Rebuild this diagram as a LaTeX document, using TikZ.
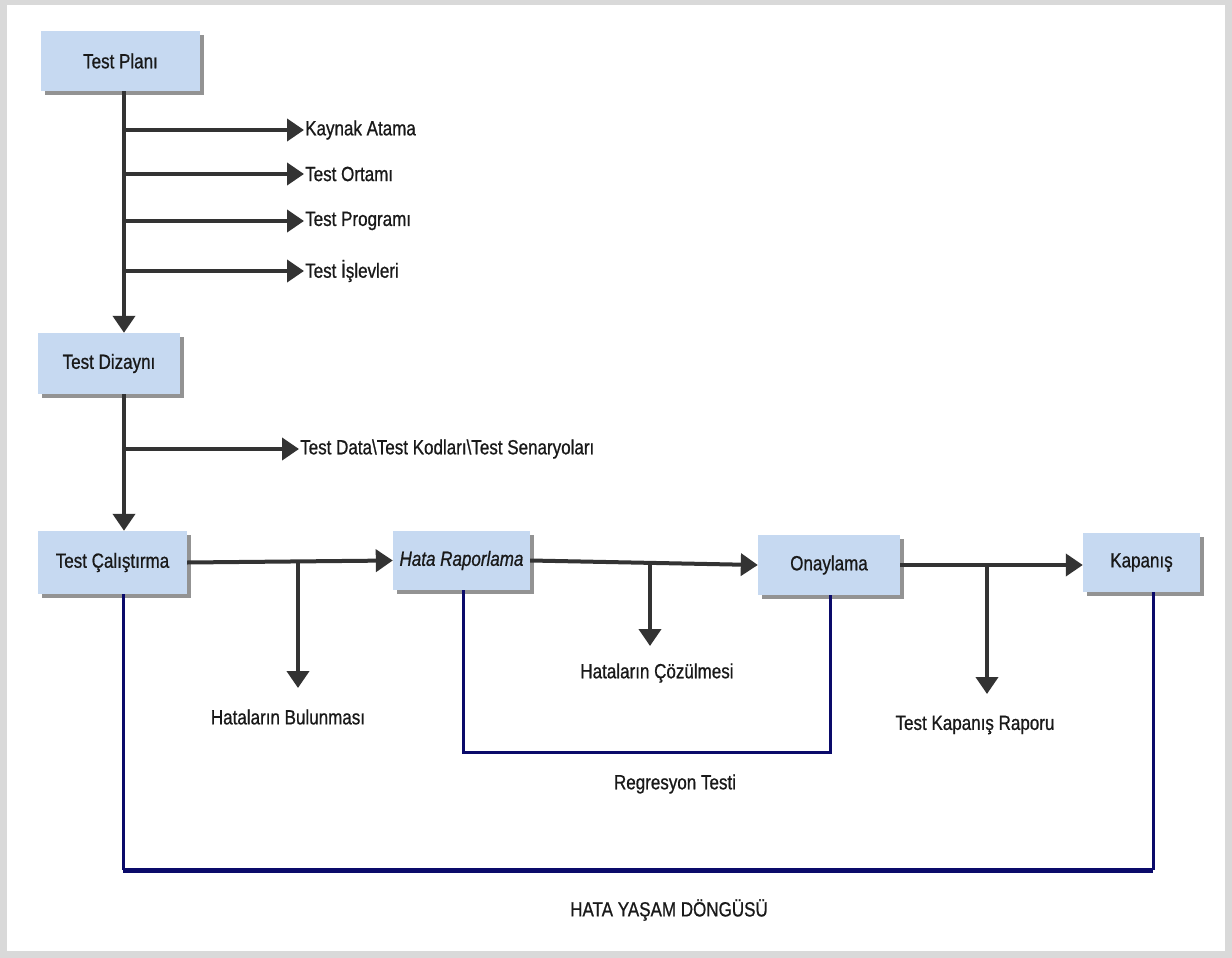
\documentclass[tikz,border=0pt]{standalone}
\usepackage{fontspec}
\setmainfont{Liberation Sans}[FakeStretch=0.83,FakeBold=0.8]
\usetikzlibrary{arrows.meta,shadows}
\definecolor{boxblue}{HTML}{C6D9F1}
\definecolor{linegray}{HTML}{333333}
\definecolor{navyline}{HTML}{0A0A6A}
\begin{document}
\begin{tikzpicture}[x=1pt,y=-1pt,
  stepbox/.style={draw=none,fill=boxblue,inner sep=0pt,
    drop shadow={shadow xshift=4pt,shadow yshift=-4pt,fill=black!60,opacity=0.7},
    font=\fontsize{20.5}{23}\selectfont,text=black!90},
  lbl/.style={inner sep=1pt,font=\fontsize{20.5}{23}\selectfont,text=black!90},
  arr/.style={draw=linegray,line width=4pt,-{Triangle[length=17pt,width=22pt]}},
  loop/.style={draw=navyline,line width=3pt}]
% frame
\fill[black!15] (0,0) rectangle (1232,958);
\fill[white] (7,5) rectangle (1225,951);
\useasboundingbox (0,0) rectangle (1232,958);

% boxes
\node[stepbox,minimum width=159pt,minimum height=60pt] (plan) at (120.5,61) {Test Planı};
\node[stepbox,minimum width=142pt,minimum height=61pt] (diz) at (109,363.5) {Test Dizaynı};
\node[stepbox,minimum width=149pt,minimum height=63pt] (cal) at (112.5,562.5) {Test Çalıştırma};
\node[stepbox,minimum width=137pt,minimum height=59pt] (hata) at (461.5,560.5) {\itshape Hata Raporlama};
\node[stepbox,minimum width=142pt,minimum height=60pt] (onay) at (829,565) {Onaylama};
\node[stepbox,minimum width=117pt,minimum height=59pt] (kap) at (1141.5,562.5) {Kapanış};

% labels
\node[lbl,anchor=west] (t1) at (304,130) {Kaynak Atama};
\node[lbl,anchor=west] (t2) at (304,174) {Test Ortamı};
\node[lbl,anchor=west] (t3) at (304,221) {Test Programı};
\node[lbl,anchor=west] (t4) at (304,271) {Test İşlevleri};
\node[lbl,anchor=west] (t5) at (299,449) {Test Data\textbackslash Test Kodları\textbackslash Test Senaryoları};
\node[lbl] (t6) at (288,717) {Hataların Bulunması};
\node[lbl] (t7) at (657,673) {Hataların Çözülmesi};
\node[lbl] (t8) at (975,725) {Test Kapanış Raporu};
\node[lbl] (t9) at (675,784) {Regresyon Testi};
\node[lbl] (t10) at (669,910) {HATA YAŞAM DÖNGÜSÜ};

% branch coordinates
\coordinate (v1) at (124,0);
\coordinate (b1) at (124,130);
\coordinate (b2) at (124,174);
\coordinate (b3) at (124,221);
\coordinate (b4) at (124,271);
\coordinate (b5) at (124,449);
\coordinate (d1) at (298,561);
\coordinate (e1) at (298,688);
\coordinate (d2) at (650,563);
\coordinate (e2) at (650,646);
\coordinate (d3) at (987,566);
\coordinate (e3) at (987,694);
\coordinate (r1) at (463,752);
\coordinate (r2) at (830,752);
\coordinate (h1) at (123,870);
\coordinate (h2) at (1153,870);

% main flow
\draw[arr] (plan.south -| v1) -- (diz.north -| v1);
\draw[arr] (diz.south -| v1) -- (cal.north -| v1);
\draw[arr] (b1) -- (t1.west);
\draw[arr] (b2) -- (t2.west);
\draw[arr] (b3) -- (t3.west);
\draw[arr] (b4) -- (t4.west);
\draw[arr] (b5) -- (t5.west);
\draw[arr] (cal.east) -- (hata.west);
\draw[arr] (hata.east) -- (onay.west);
\draw[arr] (onay.east) -- (onay.east -| kap.west);
\draw[arr] (d1) -- (e1);
\draw[arr] (d2) -- (e2);
\draw[arr] (d3) -- (e3);

% loops
\draw[loop] (hata.south -| r1) -- (r1) -- (r2) -- (onay.south -| r2);
\draw[loop] (cal.south -| h1) -- (h1);
\draw[loop] (kap.south -| h2) -- (h2);
\draw[navyline,line width=5pt] (h1) -- (h2);
\end{tikzpicture}
\end{document}
